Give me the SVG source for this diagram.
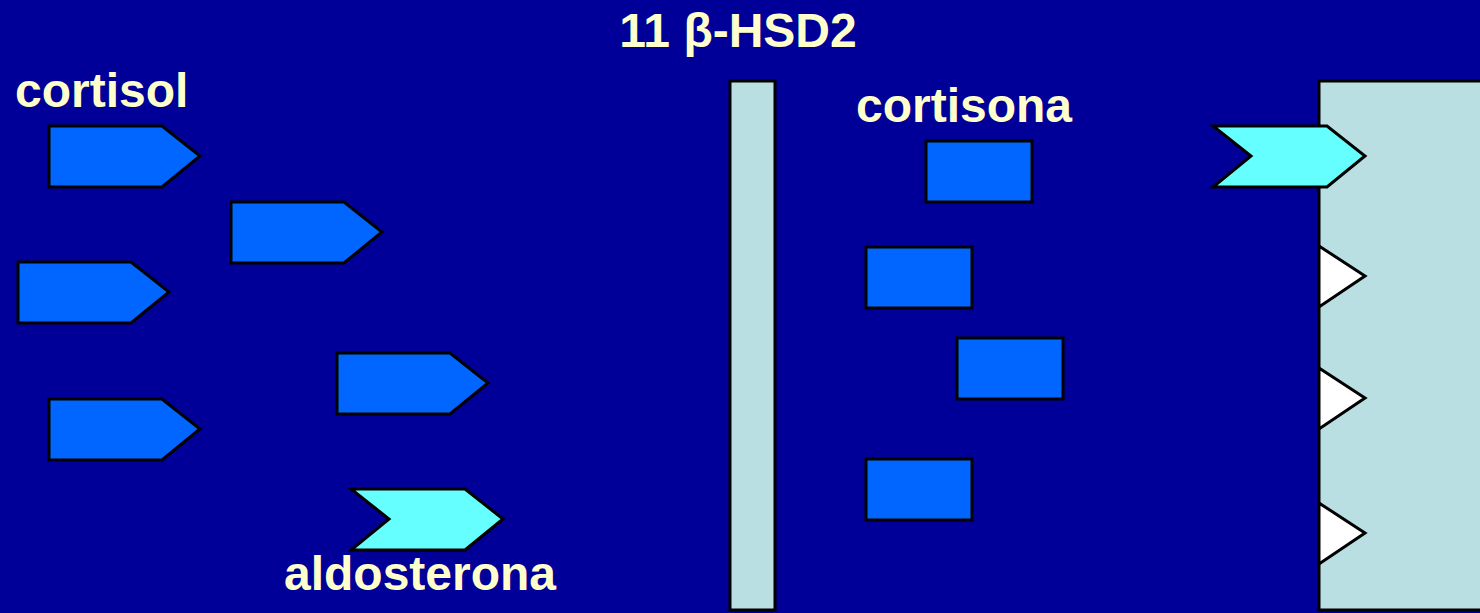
<svg xmlns="http://www.w3.org/2000/svg" width="1480" height="613" viewBox="0 0 1480 613">
  <style>
    .lbl { font-family: "Liberation Sans", Arial, sans-serif; font-weight: bold; font-size: 48px; fill: #FFFFCC; }
    .wall { fill: #B9DFE2; stroke: #000000; stroke-width: 3; }
    .mol { fill: #0066FF; stroke: #000000; stroke-width: 3; stroke-linejoin: miter; }
    .chev { fill: #66FFFF; stroke: #000000; stroke-width: 3; stroke-linejoin: miter; }
    .site { fill: #FFFFFF; stroke: #000000; stroke-width: 3; stroke-linejoin: miter; }
  </style>
  <defs>
    <!-- steroid shape: block with pointed head -->
    <polygon id="pent" points="0,0 113,0 151,30 113,61 0,61"/>
    <!-- aldosterone-type shape: notched tail -->
    <polygon id="chevron" points="0,0 114,0 152,30 114,61 0,61 38,30"/>
    <rect id="box" x="0" y="0" width="106" height="61"/>
  </defs>

  <rect x="0" y="0" width="1480" height="613" fill="#000099"/>

  <text class="lbl" x="738" y="47" text-anchor="middle">11 β-HSD2</text>

  <!-- membrane of the epithelial cell -->
  <g id="membrane">
    <rect class="wall" x="730" y="81" width="45" height="529"/>
  </g>

  <!-- target cell with receptor sites -->
  <g id="cell">
    <rect class="wall" x="1319" y="81" width="170" height="529"/>
    <polygon class="site" points="1319,246 1365,276 1319,307"/>
    <polygon class="site" points="1319,368 1365,398 1319,429"/>
    <polygon class="site" points="1319,503 1365,533 1319,564"/>
  </g>

  <g id="cortisol">
    <text class="lbl" x="15" y="107">cortisol</text>
    <use href="#pent" class="mol" x="49" y="126"/>
    <use href="#pent" class="mol" x="231" y="202"/>
    <use href="#pent" class="mol" x="18" y="262"/>
    <use href="#pent" class="mol" x="337" y="353"/>
    <use href="#pent" class="mol" x="49" y="399"/>
  </g>

  <g id="aldosterona">
    <use href="#chevron" class="chev" x="351" y="489"/>
    <text class="lbl" x="284" y="590">aldosterona</text>
  </g>

  <g id="cortisona">
    <text class="lbl" x="856" y="122">cortisona</text>
    <use href="#box" class="mol" x="926" y="141"/>
    <use href="#box" class="mol" x="866" y="247"/>
    <use href="#box" class="mol" x="957" y="338"/>
    <use href="#box" class="mol" x="866" y="459"/>
  </g>

  <g id="bound-aldosterona">
    <use href="#chevron" class="chev" x="1213" y="126"/>
  </g>

  <g id="connectors"/>
</svg>
